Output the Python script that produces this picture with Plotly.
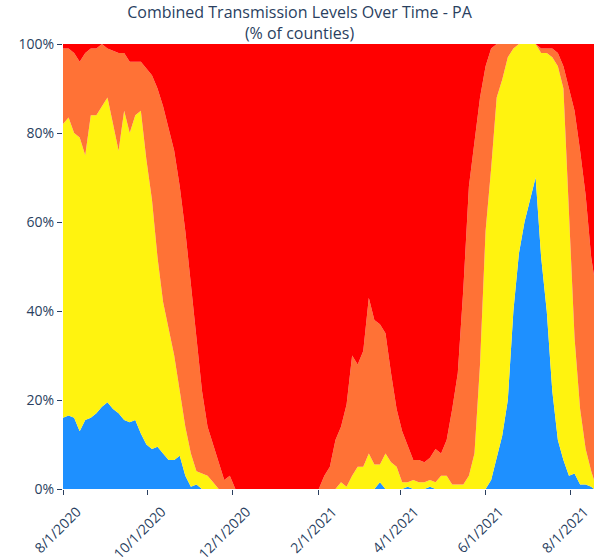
import pandas as pd
import plotly.graph_objects as go

# Days after 2020-08-01 at which the levels were read
day_offsets = [0, 4, 8, 12, 16, 20, 24, 28, 32, 36, 40, 44, 48, 52, 56, 60, 64, 68, 72, 76,
               80, 84, 88, 92, 96, 100, 104, 108, 112, 116, 120, 124, 150, 182,
               184, 188, 192, 196, 200, 204, 208, 212, 216, 220, 224, 228, 232, 236, 240, 244,
               248, 252, 256, 260, 264, 268, 272, 276, 280, 284, 288, 292, 296, 300, 304, 308,
               312, 316, 320, 324, 328, 332, 336, 340, 344, 348, 352, 356, 360, 364, 368, 372,
               376, 380, 382]

low = [16, 16.5, 16, 13, 15.5, 16, 17, 18.5, 19.5, 18, 17, 15.5, 15, 15.5, 12.5, 10, 9, 9.5, 8, 6.5,
       6.5, 7.5, 3, 0.5, 1, 0, 0, 0, 0, 0, 0, 0, 0, 0,
       0, 0, 0, 0, 0, 0, 0, 0, 0, 0, 0, 1.5, 0, 0, 0, 0,
       0.5, 0, 0, 0, 0.5, 0, 0, 0, 0, 0, 0, 0, 0, 0, 0, 2,
       7, 12, 20, 40, 53, 60, 65, 70, 52, 40, 22, 11, 6.5, 3, 3.5, 1,
       1, 0.5, 0]

moderate = [66, 67, 64, 66, 59.5, 68, 67, 67.5, 68.5, 64, 59, 69.5, 65, 68.5, 72.5, 64, 56, 42.5, 34, 29.5,
            23.5, 14.5, 11, 7.5, 3, 3.5, 3, 1.5, 0, 0, 0, 0, 0, 0,
            0, 0, 0, 0, 1.5, 0.5, 3, 5, 5, 8, 5.5, 4, 8, 6, 5, 1.5,
            1, 2, 1.5, 1.5, 1.5, 1.5, 3, 3, 1, 1, 1, 3, 8, 28, 58, 70,
            81, 80, 77, 59, 47, 40, 35, 30, 46, 58, 75, 84, 83.5, 59, 30.5, 17,
            8, 3.5, 2]

substantial = [17, 15.5, 18, 17, 23, 15, 15, 14, 11, 16.5, 22, 13, 16, 12, 11, 20.5, 28, 38, 44, 45,
               46, 46, 44, 38, 30, 18.5, 11, 8.5, 6, 2, 3, 0, 0, 0,
               0, 3, 5, 11, 12.5, 18.5, 27, 23, 26, 35, 32.5, 31.5, 27, 20, 13, 11.5,
               8, 4.5, 5, 4.5, 5, 7.5, 5, 8, 17, 25, 44, 65, 70, 60, 37, 27,
               12, 8, 3, 1, 0, 0, 0, 0, 1, 1, 2, 3, 5, 28, 51, 58,
               57, 48, 46]

high = [1, 1, 2, 4, 2, 1, 1, 0, 1, 1.5, 2, 2, 4, 4, 4, 5.5, 7, 10, 14, 19,
        24, 32, 42, 54, 66, 78, 86, 90, 94, 98, 97, 100, 100, 100,
        100, 97, 95, 89, 86, 81, 70, 72, 69, 57, 62, 63, 65, 74, 82, 87,
        90.5, 93.5, 93.5, 94, 93, 91, 92, 89, 82, 74, 55, 32, 22, 12, 5, 1,
        0, 0, 0, 0, 0, 0, 0, 0, 1, 1, 1, 2, 5, 10, 15, 24,
        34, 48, 52]

level_names = ["Low", "Moderate", "Substantial", "High"]
level_colors = ["#1E90FF", "#FFF30F", "#FF7236", "#FF0000"]

tick_dates = ["2020-08-01", "2020-10-01", "2020-12-01", "2021-02-01",
              "2021-04-01", "2021-06-01", "2021-08-01"]
tick_labels = ["8/1/2020", "10/1/2020", "12/1/2020", "2/1/2021",
               "4/1/2021", "6/1/2021", "8/1/2021"]

dates = pd.Timestamp("2020-08-01") + pd.to_timedelta(day_offsets, unit="D")

fig = go.Figure()
for name, vals, col in zip(level_names, [low, moderate, substantial, high], level_colors):
    fig.add_trace(go.Scatter(
        x=dates, y=vals, name=name, mode="lines",
        stackgroup="one", line=dict(width=0, color=col),
        fillcolor=col, showlegend=False,
    ))

fig.update_layout(
    width=599, height=558,
    paper_bgcolor="white", plot_bgcolor="white",
    margin=dict(l=63, r=5, t=44, b=69, autoexpand=False),
    font=dict(family="Open Sans, sans-serif", size=14, color="#2a3f5f"),
    title=dict(text="Combined Transmission Levels Over Time - PA<br>(% of counties)",
               x=0.5, xanchor="center", yref="paper", y=1, yanchor="bottom",
               pad=dict(b=26), font=dict(size=16)),
)
fig.update_xaxes(
    range=[dates[0], dates[-1]], automargin=False,
    tickvals=tick_dates, ticktext=tick_labels, tickangle=-45,
    ticks="outside", ticklen=5, tickcolor="#2a3f5f",
    ticklabelshift=14, ticklabelstandoff=3,
    showgrid=False, zeroline=False, showline=False,
)
fig.update_yaxes(
    range=[0, 100], automargin=False, tickvals=[0, 20, 40, 60, 80, 100],
    ticktext=["0%", "20%", "40%", "60%", "80%", "100%"],
    ticks="outside", ticklen=5, tickcolor="#2a3f5f",
    showgrid=False, zeroline=False, showline=False,
)

fig.write_html("out.html", config={"displayModeBar": False},
               post_script="document.body.style.margin='0';document.body.style.overflow='hidden';")
